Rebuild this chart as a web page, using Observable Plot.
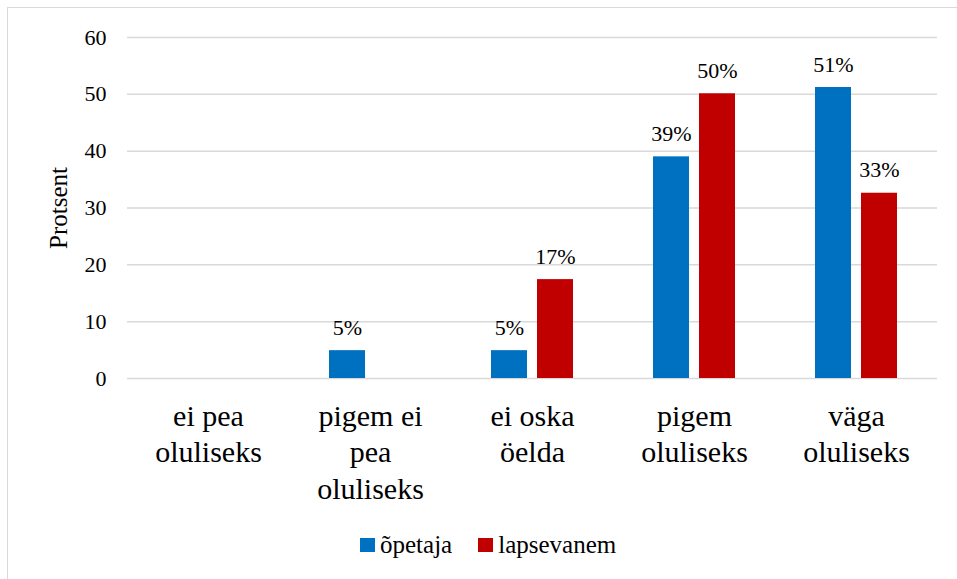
<!DOCTYPE html>
<html><head><meta charset="utf-8">
<script src="https://cdn.jsdelivr.net/npm/d3@7"></script>
<script src="https://cdn.jsdelivr.net/npm/@observablehq/plot@0.6"></script>
<style>
html,body{margin:0;padding:0;background:#fff;width:957px;height:579px;overflow:hidden;}
.serif{font-family:"Liberation Serif","Times New Roman",serif;}
#frame{position:absolute;left:7px;top:7px;width:1000px;height:1000px;border-left:1.5px solid #d9d9d9;border-top:1.5px solid #d9d9d9;box-sizing:border-box;}
#chart{position:absolute;left:0;top:0;}
#legend{position:absolute;left:360px;top:530px;height:30px;line-height:30px;display:flex;align-items:center;font-size:25px;color:#000;white-space:nowrap;}
#legend .item{display:flex;align-items:center;margin-right:26px;}
#legend .sw{width:15px;height:14px;margin-right:5px;display:inline-block;}
</style></head><body>
<div id="frame"></div>
<div id="chart" class="serif"></div>
<div id="legend" class="serif"></div>
<script>
const categories = ["ei pea oluliseks", "pigem ei pea oluliseks", "ei oska öelda", "pigem oluliseks", "väga oluliseks"];
const categoryLabels = ["ei pea\noluliseks", "pigem ei\npea\noluliseks", "ei oska\nöelda", "pigem\noluliseks", "väga\noluliseks"];
const series = ["õpetaja", "lapsevanem"];
const opetaja = [0, 4.9, 4.9, 39.0, 51.2];
const lapsevanem = [0, 0, 17.4, 50.1, 32.6];
const colors = ["#0070C0", "#C00000"];
const yTicks = [0, 10, 20, 30, 40, 50, 60];
const yTitle = "Protsent";

const data = [];
categories.forEach((c, i) => {
  data.push({category: c, series: series[0], value: opetaja[i]});
  data.push({category: c, series: series[1], value: lapsevanem[i]});
});
const labelOf = new Map(categories.map((c, i) => [c, categoryLabels[i]]));
const font = "Liberation Serif";

const chart = Plot.plot({
  width: 957, height: 515,
  marginLeft: 125, marginRight: 19, marginTop: 37, marginBottom: 137,
  style: {fontFamily: font, background: "transparent", color: "#000", overflow: "visible"},
  fx: {domain: categories, padding: 0},
  x: {domain: series, paddingInner: 0.22, paddingOuter: 0.844, axis: null},
  y: {domain: [0, 60]},
  color: {domain: series, range: colors},
  marks: [
    Plot.gridY(yTicks, {stroke: "#d9d9d9", strokeOpacity: 1, strokeWidth: 1.5}),
    Plot.barY(data, {fx: "category", x: "series", y: "value", fill: "series"}),
    Plot.text(data.filter(d => d.value > 0), {fx: "category", x: "series", y: "value", text: d => Math.round(d.value) + "%", dy: -16, lineAnchor: "bottom", fontSize: 22, fontFamily: font}),
    Plot.axisY(yTicks, {tickSize: 0, tickPadding: 21, fontSize: 22, fontFamily: font, fontVariant: "normal", label: null}),
    Plot.axisY({ticks: [], label: yTitle, labelAnchor: "center", labelOffset: 78, labelArrow: "none", fontSize: 25, fontFamily: font}),
    Plot.axisFx({anchor: "bottom", tickSize: 0, tickPadding: 21, fontSize: 30, fontFamily: font, lineHeight: 1.22, tickFormat: c => labelOf.get(c), label: null})
  ]
});
document.getElementById("chart").appendChild(chart);
d3.select(chart).selectAll("text, tspan").style("font-family", "'Liberation Serif', serif");

const legend = d3.select("#legend");
series.forEach((s, i) => {
  const item = legend.append("div").attr("class", "item").style("font-family", "'Liberation Serif', serif");
  item.append("span").attr("class", "sw").style("background", colors[i]);
  item.append("span").style("font-family", "'Liberation Serif', serif").text(s);
});
</script>
</body></html>
